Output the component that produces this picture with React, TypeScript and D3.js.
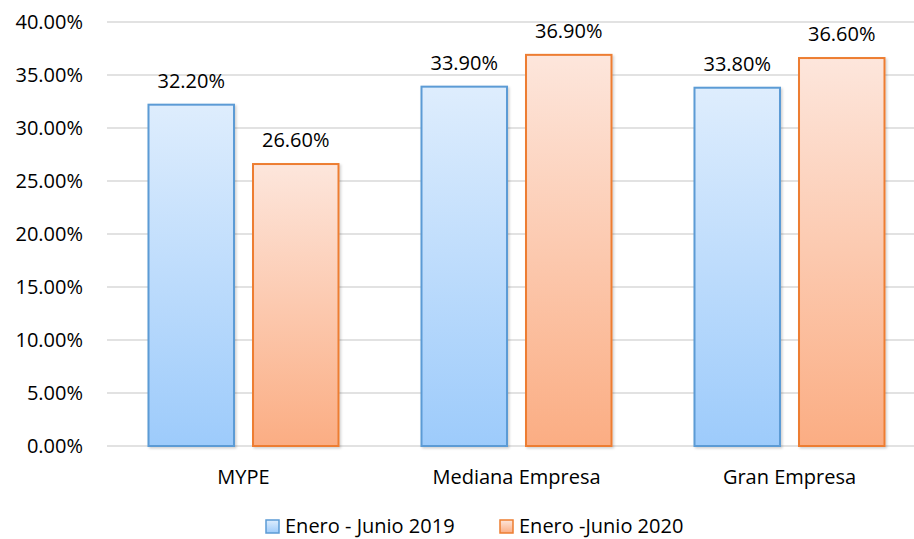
import React from "react";
import * as d3 from "d3";

const categories = ["MYPE", "Mediana Empresa", "Gran Empresa"];
const seriesNames = ["Enero - Junio 2019", "Enero -Junio 2020"];
const values2019 = [0.322, 0.339, 0.338];
const values2020 = [0.266, 0.369, 0.366];
const yTicks = [0, 0.05, 0.1, 0.15, 0.2, 0.25, 0.3, 0.35, 0.4];

const W = 914;
const H = 539;
const margin = { top: 22, right: -12, bottom: 93, left: 107 };
const FONT = "'Open Sans', 'Noto Sans', sans-serif";
const FS = 20;

const palette = [
  { stroke: "#5b9bd5", top: "#deedfd", bottom: "#9dcbfb" },
  { stroke: "#ed7d31", top: "#fde6dc", bottom: "#fbad83" },
];

export default function App() {
  const x = d3
    .scaleBand<string>()
    .domain(categories)
    .range([margin.left, W - margin.right])
    .paddingInner(0)
    .paddingOuter(0);
  const inner = d3.scaleBand<number>().domain([0, 1]).range([0, x.bandwidth()]).paddingInner(0.182).paddingOuter(0.397);
  const y = d3.scaleLinear().domain([0, 0.4]).range([H - margin.bottom, margin.top]);
  const fmt = d3.format(".2%");
  const series = [values2019, values2020];

  return (
    <svg width={W} height={H} style={{ position: "absolute", left: 0, top: 0, fontFamily: FONT }}>
      <defs>
        {palette.map((p, i) => (
          <linearGradient key={i} id={`grad${i}`} x1="0" y1="0" x2="0" y2="1">
            <stop offset="0" stopColor={p.top} />
            <stop offset="1" stopColor={p.bottom} />
          </linearGradient>
        ))}
        <filter id="shadow" x="-10%" y="-10%" width="130%" height="130%">
          <feDropShadow dx="1.5" dy="1.5" stdDeviation="1.2" floodColor="#000" floodOpacity="0.18" />
        </filter>
      </defs>
      <rect width={W} height={H} fill="#fff" />

      {/* grid + y labels */}
      {yTicks.map((t) => (
        <g key={t}>
          <line x1={margin.left} x2={W} y1={y(t)} y2={y(t)} stroke="#d9d9d9" strokeWidth={1.5} />
          <text x={83} y={y(t) + 7} textAnchor="end" fontSize={FS} fill="#000">
            {fmt(t)}
          </text>
        </g>
      ))}

      {/* bars */}
      {categories.map((c, ci) => (
        <g key={c}>
          {series.map((vals, si) => {
            const bx = (x(c) as number) + (inner(si) as number);
            const by = y(vals[ci]);
            return (
              <g key={si}>
                <rect
                  x={bx}
                  y={by}
                  width={inner.bandwidth()}
                  height={y(0) - by}
                  fill={`url(#grad${si})`}
                  stroke={palette[si].stroke}
                  strokeWidth={2}
                  filter="url(#shadow)"
                />
                <text x={bx + inner.bandwidth() / 2} y={by - 17} textAnchor="middle" fontSize={FS} fill="#000">
                  {fmt(vals[ci])}
                </text>
              </g>
            );
          })}
          <text x={(x(c) as number) + x.bandwidth() / 2} y={484} textAnchor="middle" fontSize={FS} fill="#000">
            {c}
          </text>
        </g>
      ))}

      {/* legend */}
      {seriesNames.map((s, i) => {
        const lx = i === 0 ? 266 : 500;
        return (
          <g key={s}>
            <rect x={lx} y={520} width={13} height={13} fill={`url(#grad${i})`} stroke={palette[i].stroke} strokeWidth={1.5} />
            <text x={lx + 19} y={533} fontSize={FS} fill="#000">
              {s}
            </text>
          </g>
        );
      })}
    </svg>
  );
}
